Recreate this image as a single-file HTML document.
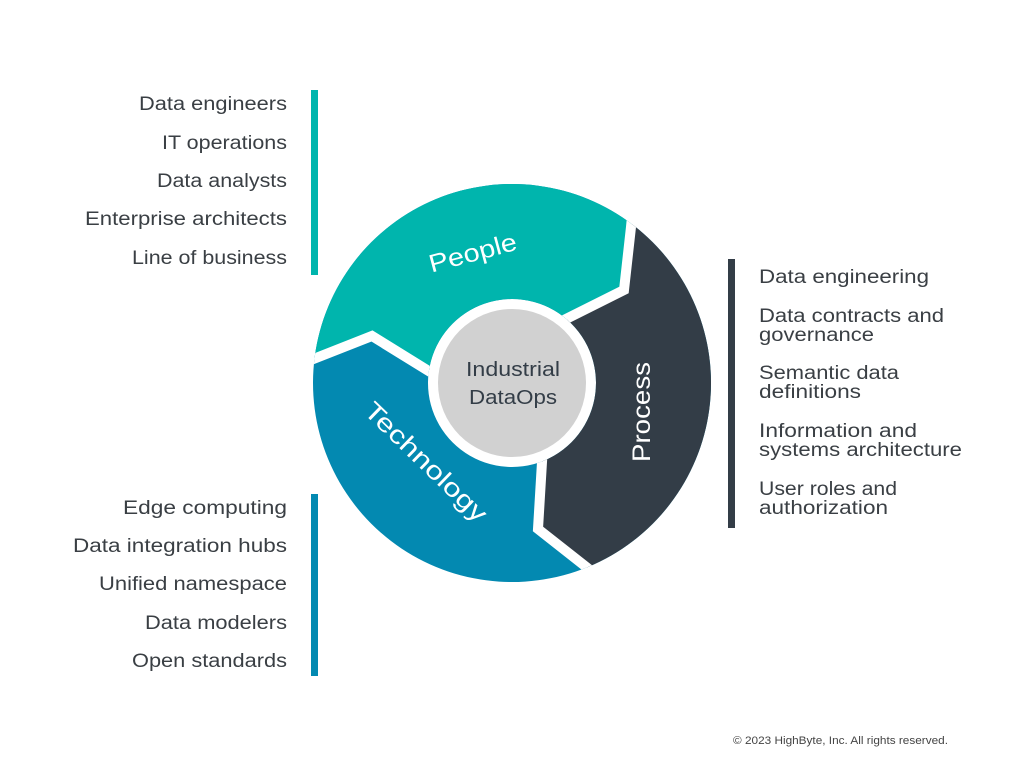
<!DOCTYPE html>
<html><head><meta charset="utf-8"><style>html,body{margin:0;padding:0;background:#fff}svg{display:block}</style></head>
<body>
<svg width="1024" height="768" viewBox="0 0 1024 768" xmlns="http://www.w3.org/2000/svg" font-family="Liberation Sans, DejaVu Sans, sans-serif">
<defs>
<clipPath id="ann"><path fill-rule="evenodd" d="M512,184 a199,199 0 1,0 0.01,0 Z M512,299 a84,84 0 1,1 -0.01,0 Z"/></clipPath>
</defs>
<g clip-path="url(#ann)">
<rect x="300" y="170" width="430" height="430" fill="#0389b1"/>
<polygon fill="#00b5ad" points="512,383 427,370 372,336 316,358 200,404 200,100 640,100 636,180 631,227 624,290 568,318"/>
<polygon fill="#333d47" points="512,383 568,318 624,290 631,227 636,180 800,100 800,700 630,602 585,566 538,529 542,462"/>
<g fill="none" stroke="#fff" stroke-width="10" stroke-linejoin="miter">
<polyline points="636,175 631,227 624,290 568,318 512,346"/>
<polyline points="250,384 316,358 372,336 427,370 470,396"/>
<polyline points="625,598 585,566 538,529 542,462 545,420"/>
</g>
</g>
<circle cx="512" cy="383" r="74" fill="#d1d1d1"/>
<g fill="#333d47" font-size="20" text-anchor="middle">
<text x="513" y="376" textLength="94" lengthAdjust="spacingAndGlyphs">Industrial</text>
<text x="513" y="404" textLength="88" lengthAdjust="spacingAndGlyphs">DataOps</text>
</g>
<g fill="#fff" font-size="25" text-anchor="middle">
<text transform="translate(475,261) rotate(-15)" textLength="90" lengthAdjust="spacingAndGlyphs">People</text>
<text transform="translate(650,412) rotate(-90)" textLength="100" lengthAdjust="spacingAndGlyphs">Process</text>
<text transform="translate(420,468) rotate(44)" textLength="160" lengthAdjust="spacingAndGlyphs">Technology</text>
</g>
<rect x="311" y="90" width="7" height="185" fill="#00b5ad"/>
<rect x="311" y="494" width="7" height="182" fill="#0389b1"/>
<rect x="728" y="259" width="7" height="269" fill="#333d47"/>
<g fill="#3a3f44" font-size="19" text-anchor="end">
<text x="287" y="110" textLength="148" lengthAdjust="spacingAndGlyphs">Data engineers</text>
<text x="287" y="149" textLength="125" lengthAdjust="spacingAndGlyphs">IT operations</text>
<text x="287" y="187" textLength="130" lengthAdjust="spacingAndGlyphs">Data analysts</text>
<text x="287" y="225" textLength="202" lengthAdjust="spacingAndGlyphs">Enterprise architects</text>
<text x="287" y="264" textLength="155" lengthAdjust="spacingAndGlyphs">Line of business</text>
<text x="287" y="514" textLength="164" lengthAdjust="spacingAndGlyphs">Edge computing</text>
<text x="287" y="552" textLength="214" lengthAdjust="spacingAndGlyphs">Data integration hubs</text>
<text x="287" y="590" textLength="188" lengthAdjust="spacingAndGlyphs">Unified namespace</text>
<text x="287" y="629" textLength="142" lengthAdjust="spacingAndGlyphs">Data modelers</text>
<text x="287" y="667" textLength="155" lengthAdjust="spacingAndGlyphs">Open standards</text>
</g>
<g fill="#3a3f44" font-size="19">
<text x="759" y="283" textLength="170" lengthAdjust="spacingAndGlyphs">Data engineering</text>
<text x="759" y="322" textLength="185" lengthAdjust="spacingAndGlyphs">Data contracts and</text>
<text x="759" y="341" textLength="115" lengthAdjust="spacingAndGlyphs">governance</text>
<text x="759" y="379" textLength="140" lengthAdjust="spacingAndGlyphs">Semantic data</text>
<text x="759" y="398" textLength="102" lengthAdjust="spacingAndGlyphs">definitions</text>
<text x="759" y="437" textLength="158" lengthAdjust="spacingAndGlyphs">Information and</text>
<text x="759" y="456" textLength="203" lengthAdjust="spacingAndGlyphs">systems architecture</text>
<text x="759" y="495" textLength="138" lengthAdjust="spacingAndGlyphs">User roles and</text>
<text x="759" y="514" textLength="129" lengthAdjust="spacingAndGlyphs">authorization</text>
</g>
<text x="733" y="744" font-size="11" fill="#444" textLength="215" lengthAdjust="spacingAndGlyphs">© 2023 HighByte, Inc. All rights reserved.</text>
</svg>
</body></html>
